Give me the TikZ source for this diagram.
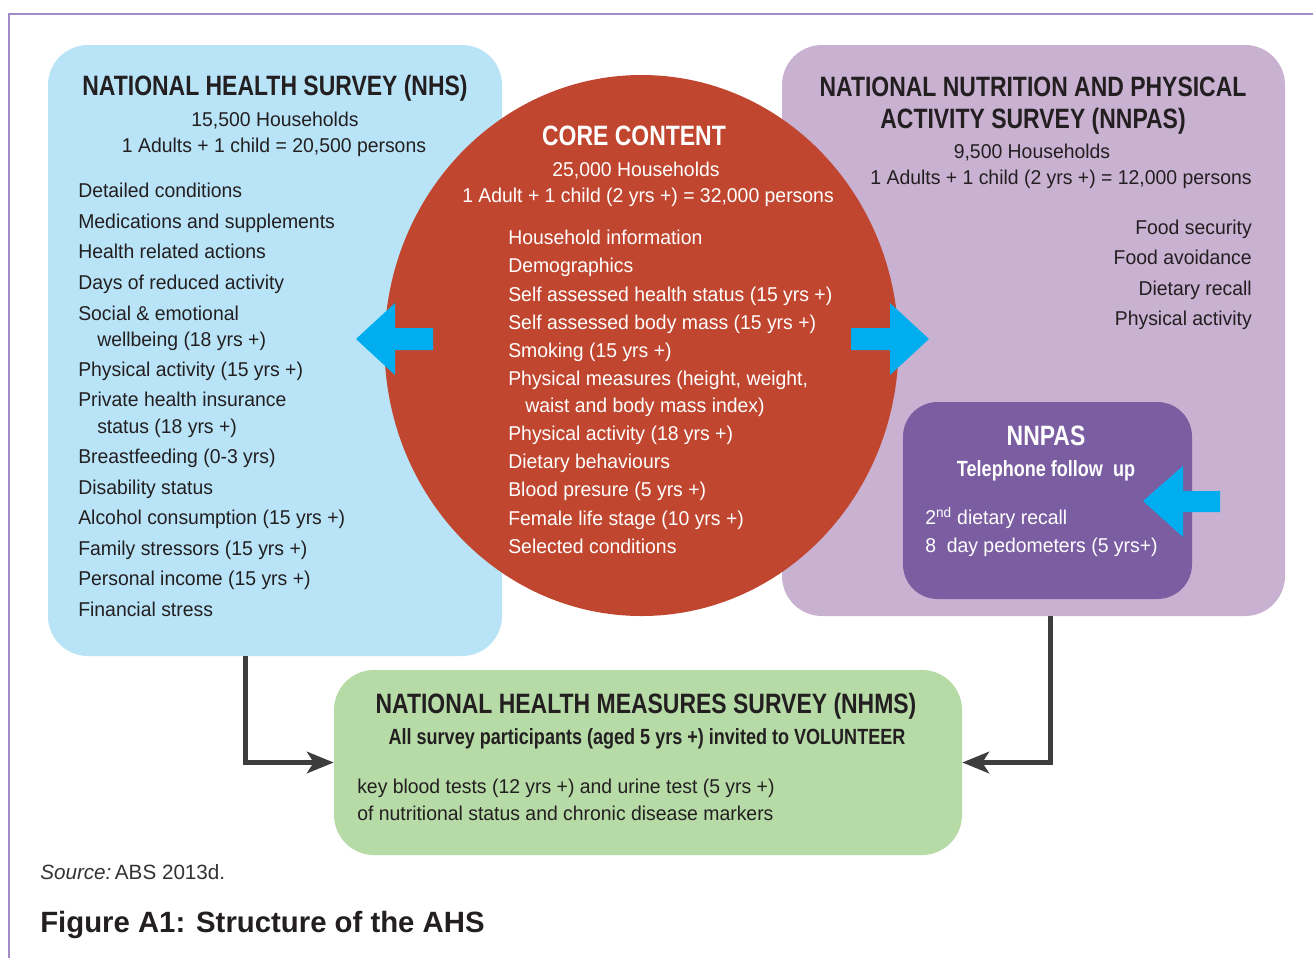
\documentclass[tikz,border=0pt]{standalone}
\usepackage{fontspec}
\setmainfont{Liberation Sans}
\newfontfamily\headfont[FakeStretch=0.82]{Liberation Sans}
\newfontfamily\bodyfont[FakeStretch=0.97]{Liberation Sans}
\usetikzlibrary{shapes.geometric,arrows.meta}
\definecolor{nhsblue}{HTML}{B9E4F8}
\definecolor{corered}{HTML}{C1462F}
\definecolor{lavender}{HTML}{C9B1D2}
\definecolor{purpbox}{HTML}{7B5DA2}
\definecolor{greenbox}{HTML}{B6DBA7}
\definecolor{cyanarr}{HTML}{00AEEF}
\definecolor{darkline}{HTML}{3D3D3D}
\definecolor{txt}{HTML}{231F20}
\definecolor{frame}{HTML}{A58BC6}
\def\pxu{0.75pt}
\tikzset{
  panel/.style={rounded corners=30pt, inner sep=0pt, draw=none},
  item/.style={anchor=base west, inner sep=0pt, text=txt, font=\bodyfont\fontsize{15}{18}\selectfont},
  witem/.style={item, text=white},
  ritem/.style={item, anchor=base east},
  head/.style={anchor=base, inner sep=0pt, text=txt, font=\headfont\bfseries\fontsize{21}{24}\selectfont},
  sub/.style={anchor=base, inner sep=0pt, text=txt, font=\bodyfont\fontsize{15}{18}\selectfont},
  subhead/.style={anchor=base, inner sep=0pt, text=txt, font=\headfont\bfseries\fontsize{16.5}{19}\selectfont},
  bigarrow/.style={fill=cyanarr, draw=none},
  conn/.style={draw=darkline, line width=3.75pt, -{Stealth[length=20pt,width=16pt,inset=5pt]}}
}
\begin{document}
\begin{tikzpicture}[x=0.75pt,y=-0.75pt]
\useasboundingbox[fill=white] (0,0) rectangle (1313,958);
% frame
\draw[frame, line width=1.5pt] (1313,14) -- (9,14) -- (9,958);

% panels
\node[panel, fill=nhsblue, minimum width=454*\pxu, minimum height=611*\pxu] (nhs) at (275,350.5) {};
\node[panel, fill=lavender, minimum width=503*\pxu, minimum height=571*\pxu] (nnpas) at (1033.5,330.5) {};
\node[panel, fill=purpbox, rounded corners=26pt, minimum width=289*\pxu, minimum height=197*\pxu] (tel) at (1047.5,500.5) {};
\node[panel, fill=greenbox, minimum width=628*\pxu, minimum height=185*\pxu] (nhms) at (648,762.5) {};
\node[ellipse, fill=corered, inner sep=0pt, minimum width=514*\pxu, minimum height=541*\pxu] (core) at (641.5,345.5) {};

% blue arrows
\fill[bigarrow] (356,339) -- (395,303) -- (395,328) -- (433,328) -- (433,350) -- (395,350) -- (395,375) -- cycle;
\fill[bigarrow] (929,339) -- (890,303) -- (890,328) -- (851,328) -- (851,350) -- (890,350) -- (890,375) -- cycle;
\fill[bigarrow] (1143,501) -- (1183,466) -- (1183,491) -- (1220,491) -- (1220,512) -- (1183,512) -- (1183,537) -- cycle;

% connectors
\coordinate (cl) at (245,0);
\coordinate (cr) at (1050,0);
\draw[conn] (nhs.south -| cl) |- (nhms.west);
\draw[conn] (nnpas.south -| cr) |- (nhms.east);

% NHS text
\node[head] (nhsT) at (275,95) {NATIONAL HEALTH SURVEY (NHS)};
\node[sub] (nhsA) at (275,126) {15,500 Households};
\node[sub] (nhsB) at (274,152) {1 Adults + 1 child = 20,500 persons};
\foreach \t/\x/\y [count=\i] in {
  Detailed conditions/78/197,
  Medications and supplements/78/228,
  Health related actions/78/258,
  Days of reduced activity/78/289,
  Social \& emotional/78/320,
  wellbeing (18 yrs +)/97/346,
  Physical activity (15 yrs +)/78/376,
  Private health insurance/78/406,
  status (18 yrs +)/97/433,
  Breastfeeding (0-3 yrs)/78/463,
  Disability status/78/494,
  Alcohol consumption (15 yrs +)/78/524,
  Family stressors (15 yrs +)/78/555,
  Personal income (15 yrs +)/78/585,
  Financial stress/78/616}
  \node[item] (nhsI\i) at (\x,\y) {\t};

% Core text
\node[head, text=white] (coreT) at (634,145) {CORE CONTENT};
\node[sub, text=white] (coreA) at (636,176) {25,000 Households};
\node[sub, text=white] (coreB) at (648,202) {1 Adult + 1 child (2 yrs +) = 32,000 persons};
\foreach \t/\x/\y [count=\i] in {
  Household information/508/244,
  Demographics/508/272,
  Self assessed health status (15 yrs +)/508/301,
  Self assessed body mass (15 yrs +)/508/329,
  Smoking (15 yrs +)/508/357,
  {Physical measures (height, weight,}/508/385,
  waist and body mass index)/525/412,
  Physical activity (18 yrs +)/508/440,
  Dietary behaviours/508/468,
  Blood presure (5 yrs +)/508/496,
  Female life stage (10 yrs +)/508/525,
  Selected conditions/508/553}
  \node[witem] (coreI\i) at (\x,\y) {\t};

% NNPAS text
\node[head] (nnT1) at (1033,96) {NATIONAL NUTRITION AND PHYSICAL};
\node[head] (nnT2) at (1033,128) {ACTIVITY SURVEY (NNPAS)};
\node[sub] (nnA) at (1032,158) {9,500 Households};
\node[sub] (nnB) at (1061,184) {1 Adults + 1 child (2 yrs +) = 12,000 persons};
\foreach \t/\y [count=\i] in {
  Food security/234,
  Food avoidance/264,
  Dietary recall/295,
  Physical activity/325}
  \node[ritem] (nnI\i) at (1252,\y) {\t};

% Telephone follow up
\node[head, text=white] (telT) at (1046,445) {NNPAS};
\node[subhead, text=white] (telS) at (1046,476) {Telephone follow\ \ up};
\node[witem] (telI1) at (925,524) {2\textsuperscript{nd} dietary recall};
\node[witem] (telI2) at (925,552) {8\ \ day pedometers (5 yrs+)};

% NHMS text
\node[head] (nhmsT) at (646,713) {NATIONAL HEALTH MEASURES SURVEY (NHMS)};
\node[subhead] (nhmsS) at (647,744) {All survey participants (aged 5 yrs +) invited to VOLUNTEER};
\node[item] (nhmsI1) at (357,793) {key blood tests (12 yrs +) and urine test (5 yrs +)};
\node[item] (nhmsI2) at (357,820) {of nutritional status and chronic disease markers};

% caption
\node[anchor=base west, inner sep=0pt, text=black!80, font=\fontsize{15.5}{18}\selectfont] (src) at (40,879) {\textit{Source:}\,ABS 2013d.};
\node[anchor=base west, inner sep=0pt, text=txt, font=\bfseries\fontsize{22}{26}\selectfont] (cap) at (40,932) {Figure A1: Structure of the AHS};
\end{tikzpicture}
\end{document}
